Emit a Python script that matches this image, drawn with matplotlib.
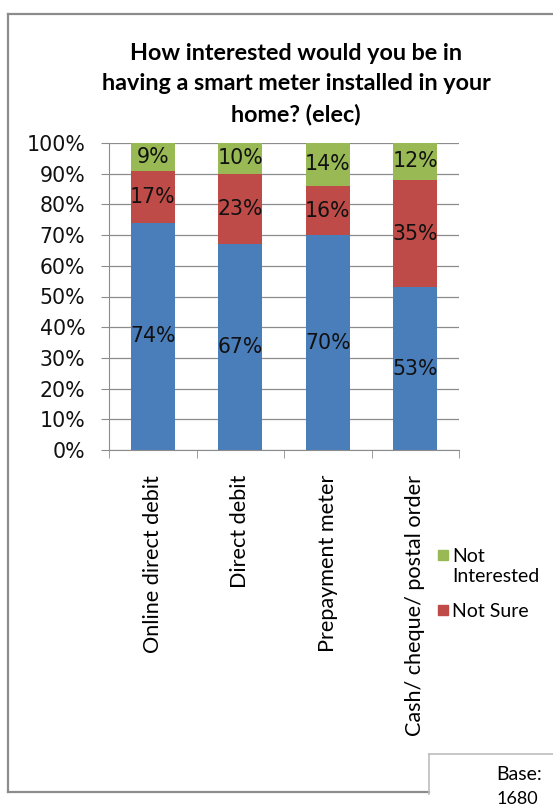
import numpy as np
import matplotlib as mpl
mpl.use("Agg")
import matplotlib.pyplot as plt
from matplotlib.patches import Rectangle

categories = ["Online direct debit", "Direct debit", "Prepayment meter",
              "Cash/ cheque/ postal order"]
interested = [74, 67, 70, 53]
not_sure = [17, 23, 16, 35]
not_interested = [9, 10, 14, 12]
legend_labels = ["Not\nInterested", "Not Sure"]

blue = "#4a7ebb"
red = "#be4b48"
green = "#98b954"

fig = plt.figure(figsize=(5.53, 8.08), dpi=100)
W, H = 553, 808


def fx(px):
    return px / W


def fy(py):
    return 1 - py / H


# outer chart frame
frame = dict(color="#8c8c8c", lw=1.6, transform=fig.transFigure)
fig.add_artist(plt.Line2D([fx(8), fx(8)], [fy(14), fy(792)], **frame))
fig.add_artist(plt.Line2D([fx(8), fx(560)], [fy(14), fy(14)], **frame))
fig.add_artist(plt.Line2D([fx(8), fx(429)], [fy(792), fy(792)], **frame))
base = dict(color="#bdbdbd", lw=1.2, transform=fig.transFigure)
fig.add_artist(plt.Line2D([fx(429), fx(560)], [fy(754), fy(754)], **base))
fig.add_artist(plt.Line2D([fx(429), fx(429)], [fy(754), fy(794)], **base))
fig.text(fx(542), fy(774), "Base:", ha="right", va="center", family="Lato", fontsize=14)
fig.text(fx(538), fy(799), "1680", ha="right", va="center", family="Lato", fontsize=13)

fig.text(fx(296), fy(84), "How interested would you be in\nhaving a smart meter installed in your\nhome? (elec)",
         ha="center", va="center", family="Lato", fontweight="bold", fontsize=16.8,
         linespacing=1.55)

ax = fig.add_axes([fx(109), fy(450), fx(459) - fx(109), fy(143) - fy(450)])
x = np.arange(len(categories))
ni = np.array(interested)
ns = np.array(not_sure)
nn = np.array(not_interested)
ax.bar(x, ni, width=0.5, color=blue, zorder=2)
ax.bar(x, ns, width=0.5, bottom=ni, color=red, zorder=2)
ax.bar(x, nn, width=0.5, bottom=ni + ns, color=green, zorder=2)

for i in range(len(categories)):
    ax.text(x[i], ni[i] / 2, f"{ni[i]}%", ha="center", va="center", fontsize=14.8, color="#111")
    ax.text(x[i], ni[i] + ns[i] / 2, f"{ns[i]}%", ha="center", va="center", fontsize=14.8, color="#111")
    ax.text(x[i], ni[i] + ns[i] + nn[i] / 2, f"{nn[i]}%", ha="center", va="center", fontsize=14.8, color="#111")

ax.set_xlim(-0.5, len(categories) - 0.5)
ax.set_ylim(0, 100)
ax.set_yticks(np.arange(0, 101, 10))
ax.set_yticklabels([f"{v}%" for v in range(0, 101, 10)], fontsize=14.8, color="#111")
ax.yaxis.grid(True, color="#8c8c8c", lw=0.9, zorder=0)
ax.tick_params(axis="y", length=6, color="#8c8c8c", pad=11)

ax.set_xticks(x)
ax.set_xticklabels(categories, rotation=90, family="Lato", fontsize=15.6)
ax.set_xticks(np.arange(len(categories) + 1) - 0.5, minor=True)
ax.tick_params(axis="x", which="major", length=0, pad=18)
ax.tick_params(axis="x", which="minor", length=6, color="#8c8c8c")

for s in ["top", "right"]:
    ax.spines[s].set_visible(False)
ax.spines["left"].set_color("#8c8c8c")
ax.spines["bottom"].set_color("#8c8c8c")

# legend (only the two entries visible in the chart)
for col, lab, ytop in zip([green, red], legend_labels, [548, 603]):
    fig.add_artist(Rectangle((fx(438), fy(ytop + 12)), fx(10), 10 / H,
                             color=col, transform=fig.transFigure))
    fig.text(fx(452), fy(ytop), lab, ha="left", va="top", family="Lato",
             fontsize=14, linespacing=1.2)

fig.savefig("out.png", dpi=100)
